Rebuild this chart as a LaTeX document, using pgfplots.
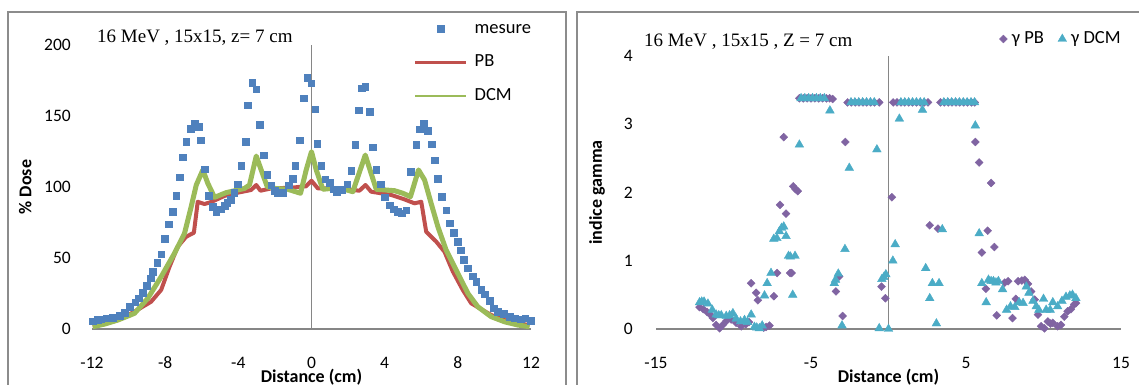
\documentclass[border=0pt]{standalone}
\usepackage{pgfplots}
\pgfplotsset{compat=1.18}
\usepackage{fontspec}
\setmainfont{Carlito}
\newfontfamily\tnr{Liberation Serif}
\definecolor{mblue}{HTML}{4F81BD}
\definecolor{mred}{HTML}{C0504D}
\definecolor{mgreen}{HTML}{9BBB59}
\definecolor{mpurple}{HTML}{8064A2}
\definecolor{mcyan}{HTML}{4BACC6}
\definecolor{axgray}{HTML}{868686}
\definecolor{frgray}{HTML}{8C8C8C}
\pgfplotsset{
  excel/.style={
    scale only axis, clip=false,
    axis line style={draw=none},
    major tick length=0pt,
    tick label style={font=\fontsize{17.5}{17.5}\selectfont},
    xticklabel style={anchor=center, inner sep=0pt, yshift=-34pt},
    label style={font=\bfseries\fontsize{18}{18}\selectfont},
    legend cell align=left,
  },
  legsq/.style={legend image code/.code={\draw[mark repeat=2,mark phase=2,##1] plot coordinates {(0pt,0pt) (25.5pt,0pt) (51pt,0pt)};}},
  legline/.style={legend image code/.code={\draw[##1, line width=2.7pt] (0pt,0pt) -- (51pt,0pt);}},
  legmark/.style={legend image code/.code={\draw[##1] plot coordinates {(0pt,0pt)};}},
}
\begin{document}
\begin{tikzpicture}
\useasboundingbox (0pt,0pt) rectangle (1139pt,385pt);
\draw[frgray, line width=1.6pt] (8pt,-5pt) -- (8pt,373pt) -- (566pt,373pt) -- (566pt,-5pt);
\draw[frgray, line width=1.6pt] (577pt,-5pt) -- (577pt,373pt) -- (1145pt,373pt);

% ---------------- left panel
\begin{axis}[excel,
  at={(92pt,56pt)}, anchor=south west,
  width=439pt, height=284pt,
  xmin=-12, xmax=12, ymin=0, ymax=200,
  xtick={-12,-8,-4,0,4,8,12}, xticklabels={-12,-8,-4,0,4,8,12},
  ytick={0,50,100,150,200}, yticklabels={0,50,100,150,200},
  yticklabel style={anchor=east, inner sep=0pt, xshift=-21pt},
  xlabel={Distance (cm)}, ylabel={\% Dose},
  xlabel style={at={(axis description cs:0.5,-0.168)}, anchor=center},
  ylabel style={at={(axis description cs:-0.152,0.5)}, anchor=center},
  legend style={draw=none, fill=none, inner sep=0pt, outer sep=0pt,
    at={(axis description cs:0.7335,1.0863)}, anchor=north west,
    row sep=16.5pt, column sep=7pt,
    font=\fontsize{18.5}{18.5}\selectfont,
    nodes={inner sep=0pt, text height=13pt, text depth=4pt}},
]
\draw[axgray, line width=1.2pt] (axis cs:-12,0) -- (axis cs:12,0);
\draw[axgray, line width=1.2pt] (axis cs:0,0) -- (axis cs:0,200);
\node[anchor=west, inner sep=0pt, font=\tnr\fontsize{19}{19}\selectfont] at (axis description cs:0.0114,1.0246) {16 MeV , 15x15, z= 7 cm};

\addplot[only marks, mark=square*, mark size=3.3pt, color=mblue, legsq]
table {
x y
-11.96 5.5
-11.7 6.5
-11.5 7
-11.2 7.5
-10.86 8
-10.5 9.2
-10.2 11.5
-9.93 15.7
-9.64 18.8
-9.44 21.6
-9.22 25.6
-9.0 30.3
-8.8 35.7
-8.67 40.4
-8.44 46.7
-8.22 52.8
-8.04 63.4
-7.8 73.7
-7.58 82.6
-7.4 94
-7.2 107
-7.04 121
-6.85 132
-6.62 141
-6.4 145
-6.18 142.5
-6.07 133
-5.85 112.5
-5.63 94
-5.4 86
-5.21 82.6
-4.98 84.3
-4.76 87
-4.6 89
-4.43 91
-4.23 96
-4.03 102
-3.85 115
-3.59 132
-3.48 157.7
-3.24 173.5
-3.02 168.8
-2.84 144
-2.6 122.5
-2.42 108.5
-2.2 101.4
-2.02 97.5
-1.84 96
-1.57 96
-1.26 101.4
-1.02 106
-0.89 114.8
-0.66 133
-0.44 162.5
-0.24 177
-0.02 173
0.2 154.7
0.31 130.3
0.53 114.8
0.75 105.4
0.98 103
1.2 98.5
1.38 96.7
1.66 97.9
1.95 102
2.17 111.5
2.39 129.6
2.57 154
2.75 169.5
2.94 170.6
3.17 153
3.35 128
3.54 112
3.77 102
3.99 92.7
4.26 87.3
4.5 84.5
4.72 82.6
4.94 81.5
5.18 83.8
5.41 110.8
5.72 129.6
5.9 140.6
6.14 145
6.36 139.7
6.58 130
6.72 119
6.91 106
7.12 93
7.36 83.8
7.55 74.4
7.78 67.8
8.0 61.5
8.15 55.6
8.33 49
8.55 42.7
8.82 37.3
9.0 33.3
9.28 27.5
9.46 24.6
9.73 20
9.97 14.6
10.19 12.2
10.5 10.6
10.83 8.7
11.1 7.5
11.43 6.8
11.68 7.5
11.97 5.8
};
\addlegendentry{mesure}

\addplot[mred, line width=4pt, line join=round, legline]
table {
x y
-11.96 1.8
-11.3 3.5
-10.6 6.3
-9.68 12.2
-8.77 19.2
-8.22 27.5
-7.76 43.9
-7.31 58
-6.85 65
-6.43 67.8
-6.22 89.6
-5.85 88
-5.45 89.6
-4.76 93.7
-4.03 96
-3.3 97.9
-3.02 101.4
-2.79 97.4
-2.2 99
-1.11 99.5
-0.3 100.5
0.0 104.4
0.35 99
0.7 99
1.8 98.4
2.62 97.4
2.95 101.4
3.26 96.7
4.36 94.4
5.08 91.3
5.63 88.5
6.0 89.6
6.27 68.5
6.82 61.5
7.27 54.4
7.73 40.4
8.27 27.5
8.73 18.1
9.28 13.9
9.82 9.9
10.55 6.3
11.28 4
11.92 2.8
};
\addlegendentry{PB}

\addplot[mgreen, line width=5pt, line join=round, legline]
table {
x y
-11.96 1.6
-11.3 3.5
-10.59 6.3
-9.68 11
-8.95 21.6
-8.22 36.8
-7.49 53.3
-6.94 67.4
-6.58 86
-6.3 101.4
-5.94 112
-5.67 102.6
-5.3 92.7
-4.67 96
-3.66 99
-3.39 101.4
-3.02 121.8
-2.75 112
-2.42 100.2
-2.02 99
-1.3 98.4
-0.6 95.6
-0.29 112
0.0 124.9
0.26 112
0.62 98.4
1.08 99
1.8 98.4
2.26 96.7
2.53 107
2.94 122.5
3.26 109.6
3.54 98.4
4.54 97.4
4.99 95.6
5.41 93.2
5.85 112
6.18 105
6.54 88.5
6.91 72
7.36 55.6
7.91 41.5
8.55 25.1
9.09 15.7
9.82 8.7
10.55 5.1
11.28 2.8
11.92 1.6
};
\addlegendentry{DCM}
\end{axis}

% ---------------- right panel
\begin{axis}[excel,
  at={(656pt,56pt)}, anchor=south west,
  width=465pt, height=273pt,
  xmin=-15, xmax=15, ymin=0, ymax=4,
  xtick={-15,-5,5,15}, xticklabels={-15,-5,5,15},
  ytick={0,1,2,3,4}, yticklabels={0,1,2,3,4},
  yticklabel style={anchor=east, inner sep=0pt, xshift=-23pt},
  xlabel={Distance (cm)}, ylabel={indice gamma},
  xlabel style={at={(axis description cs:0.5,-0.175)}, anchor=center},
  ylabel style={at={(axis description cs:-0.1269,0.5)}, anchor=center},
  legend columns=2,
  legend style={draw=none, fill=none, inner sep=0pt, outer sep=0pt,
    at={(axis description cs:0.7387,1.0934)}, anchor=north west,
    column sep=4.5pt, /tikz/every even column/.append style={column sep=14pt},
    font=\fontsize{18.5}{18.5}\selectfont,
    nodes={inner sep=0pt, text height=13pt, text depth=4pt}},
]
\draw[axgray, line width=1.2pt] (axis cs:-15,0) -- (axis cs:15,0);
\draw[axgray, line width=1.2pt] (axis cs:0,0) -- (axis cs:0,4);
\node[anchor=west, inner sep=0pt, font=\tnr\fontsize{19}{19}\selectfont] at (axis description cs:-0.0258,1.0513) {16 MeV , 15x15 , Z = 7 cm};

\addplot[only marks, mark=square*, mark options={rotate=45}, mark size=2.8pt, color=mpurple, legmark]
table {
x y
-12.19 0.32
-11.95 0.29
-11.7 0.25
-11.5 0.21
-11.33 0.16
-11.12 0.06
-10.9 0.01
-10.69 0.06
-10.45 0.12
-10.15 0.14
-9.83 0.09
-9.5 0.04
-9.2 0.07
-9.0 0.1
-8.86 0.67
-8.54 0.53
-8.43 0.42
-8.05 0.02
-7.9 0.03
-7.68 0.05
-7.4 0.48
-7.19 0.82
-7.0 1.82
-6.76 2.81
-6.61 1.69
-6.35 0.82
-6.25 0.82
-6.15 2.09
-6.0 2.05
-5.86 2.02
-5.75 3.38
-5.5 3.38
-5.25 3.38
-5.0 3.38
-4.75 3.38
-4.5 3.38
-4.25 3.38
-4.0 3.38
-3.8 3.38
-3.6 3.37
-3.39 0.55
-3.18 0.77
-2.96 0.19
-2.79 2.74
-2.64 3.32
-2.4 3.32
-2.15 3.32
-1.9 3.32
-1.65 3.32
-1.4 3.32
-1.15 3.32
-0.9 3.32
-0.6 3.32
-0.45 0.62
-0.2 0.45
0.22 1.93
0.3 3.32
0.55 3.32
0.8 3.32
1.05 3.32
1.3 3.32
1.55 3.32
1.8 3.32
2.05 3.32
2.3 3.32
2.55 3.32
2.66 1.52
3.19 1.47
3.35 3.32
3.6 3.32
3.85 3.32
4.1 3.32
4.35 3.32
4.6 3.32
4.85 3.32
5.1 3.32
5.35 3.32
5.56 3.32
5.6 2.74
5.85 2.44
6.02 1.12
6.28 0.59
6.4 1.44
6.62 2.14
6.83 1.2
6.98 0.2
7.5 0.68
7.72 0.7
8.0 0.16
8.21 0.44
8.36 0.7
8.6 0.71
8.79 0.72
9.0 0.66
9.2 0.55
9.43 0.43
9.64 0.21
9.85 0.04
10.06 0.01
10.28 0.11
10.45 0.08
10.6 0.09
10.91 0.04
11.13 0.06
11.34 0.18
11.55 0.26
11.77 0.29
11.98 0.36
12.1 0.38
};
\addlegendentry{γ PB}

\addplot[only marks, mark=triangle*, mark size=5pt, color=mcyan, legmark]
table {
x y
-12.19 0.39
-12.05 0.4
-11.9 0.4
-11.65 0.37
-11.37 0.28
-11.12 0.21
-10.95 0.2
-10.79 0.2
-10.47 0.19
-10.25 0.2
-10.04 0.23
-9.83 0.15
-9.55 0.11
-9.29 0.13
-9.1 0.1
-8.86 0.21
-8.65 0.03
-8.5 0.02
-8.33 0.01
-8.15 0.05
-8.0 0.49
-7.83 0.67
-7.58 0.82
-7.4 1.32
-7.2 1.33
-7.04 1.43
-6.9 1.48
-6.76 1.5
-6.61 1.36
-6.45 1.07
-6.33 1.06
-6.18 0.5
-6.03 1.07
-5.75 2.7
-5.64 3.38
-5.4 3.38
-5.15 3.38
-4.9 3.38
-4.65 3.38
-4.4 3.38
-4.14 3.38
-3.78 3.2
-3.5 0.67
-3.42 0.72
-3.24 0.81
-3.0 0.05
-2.81 1.17
-2.53 2.36
-2.42 3.32
-2.17 3.32
-1.92 3.32
-1.67 3.32
-1.42 3.32
-1.17 3.32
-0.92 3.32
-0.75 2.63
-0.6 0.01
-0.43 0.73
-0.3 0.76
-0.17 0.8
0.0 0.0
0.28 1.0
0.43 1.24
0.7 3.08
0.8 3.32
1.05 3.32
1.3 3.32
1.55 3.32
1.8 3.32
2.05 3.32
2.3 3.32
2.19 3.21
2.4 0.89
2.66 0.45
2.83 0.67
3.09 0.08
3.26 0.67
3.47 1.46
3.57 3.32
3.82 3.32
4.07 3.32
4.32 3.32
4.57 3.32
4.82 3.32
5.07 3.32
5.32 3.32
5.55 3.32
5.6 2.98
5.85 1.4
6.02 0.67
6.3 0.39
6.45 0.72
6.62 0.7
6.77 0.7
6.93 0.68
7.09 0.7
7.36 0.58
7.62 0.28
7.87 0.33
8.15 0.32
8.43 0.39
8.68 0.38
8.89 0.62
9.06 0.53
9.32 0.41
9.53 0.33
9.7 0.28
10.0 0.44
10.17 0.28
10.43 0.28
10.6 0.39
10.91 0.33
11.19 0.41
11.45 0.47
11.7 0.49
11.87 0.5
12.09 0.45
};
\addlegendentry{γ DCM}
\end{axis}
\end{tikzpicture}
\end{document}
